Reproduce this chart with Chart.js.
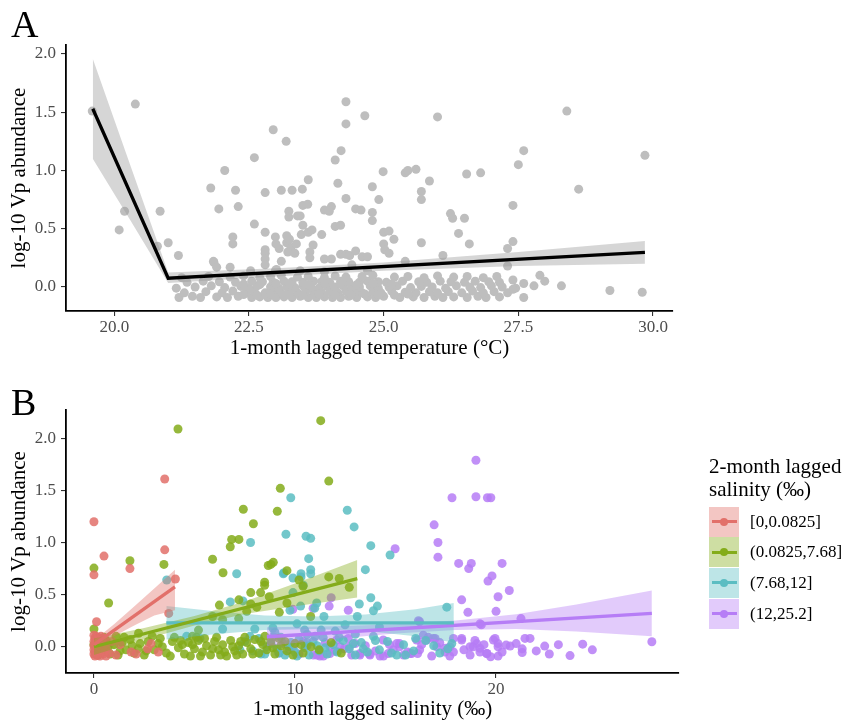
<!DOCTYPE html>
<html>
<head>
<meta charset="utf-8">
<title>Vp abundance vs lagged temperature and salinity</title>
<script src="https://cdn.jsdelivr.net/npm/chart.js@4.4.1/dist/chart.umd.min.js"></script>
<style>
  body { margin: 0; background: #fff; font-family: "Liberation Serif", "Times New Roman", serif; }
  #page { position: relative; width: 846px; height: 722px; overflow: hidden; background: #fff; }
  canvas { position: absolute; left: 0; }
  #chartA { top: 0; }
  #chartB { top: 380px; }
  .tag { position: absolute; font-size: 38px; line-height: 38px; color: #000; }
  .legend-title { position: absolute; left: 709px; top: 455px; font-size: 21px; line-height: 22.7px; color: #000; white-space: nowrap; }
  .key { position: absolute; left: 709px; width: 30px; height: 30px; }
  .key .line { position: absolute; left: 2.5px; right: 2.5px; top: 13.5px; height: 3px; }
  .key .dot { position: absolute; left: 11px; top: 11px; width: 8px; height: 8px; border-radius: 50%; }
  .key-label { position: absolute; left: 750px; height: 30px; line-height: 30px; font-size: 17px; color: #000; white-space: nowrap; }
</style>
</head>
<body>
<div id="page">
  <canvas id="chartA" width="846" height="370"></canvas>
  <canvas id="chartB" width="846" height="342"></canvas>
  <div class="tag" style="left:11px;top:5px">A</div>
  <div class="tag" style="left:11px;top:383px">B</div>
  <div class="legend-title">2-month lagged<br>salinity (‰)</div>
  <div id="legend"></div>
</div>
<script>
// ---- panel A: 1-month lagged temperature ----
const tempTicks = [20, 22.5, 25, 27.5, 30];
const abundTicks = [0, 0.5, 1, 1.5, 2];

const tempPoints = [
  [19.59, 1.51], [20.39, 1.57], [20.19, 0.65], [20.09, 0.49], [20.85, 0.65], [20.8, 0.35], [21.0, 0.38],
  [21.19, 0.27], [21.85, 0.21], [22.15, 0.17], [21.79, 0.85], [22.05, 1.0], [21.94, 0.67], [22.25, 0.83],
  [22.3, 0.69], [22.2, 0.43], [22.2, 0.37], [22.6, 1.11], [22.6, 0.54], [22.53, 0.14], [22.8, 0.81],
  [22.8, 0.47], [22.8, 0.32], [22.8, 0.29], [22.8, 0.24], [22.95, 1.35], [23.19, 1.25], [23.1, 0.83],
  [23.3, 0.83], [22.99, 0.43], [23.0, 0.37], [23.06, 0.33], [23.2, 0.38], [23.28, 0.34], [23.22, 0.3],
  [23.35, 0.29], [23.38, 0.37], [23.2, 0.44], [23.25, 0.41], [23.1, 0.22], [22.99, 0.14], [23.24, 0.65],
  [23.24, 0.6], [23.4, 0.61], [23.45, 0.61], [23.49, 0.84], [23.6, 0.92], [23.5, 0.7], [23.59, 0.71],
  [23.5, 0.53], [23.47, 0.45], [23.6, 0.47], [23.67, 0.49], [23.69, 0.36], [23.63, 0.3], [23.63, 0.25],
  [23.85, 0.45], [23.9, 0.66], [24.03, 0.69], [23.99, 0.65], [23.9, 0.24], [24.03, 0.24], [24.1, 0.52],
  [24.2, 0.53], [24.15, 0.89], [24.1, 1.09], [24.21, 1.17], [24.3, 1.59], [24.3, 1.4], [24.3, 0.76],
  [24.2, 0.28], [24.3, 0.28], [24.37, 0.27], [24.48, 0.67], [24.58, 0.66], [24.48, 0.31], [24.6, 0.26],
  [24.41, 0.19], [24.7, 0.26], [24.65, 1.47], [21.84, 0.22], [21.9, 0.17], [23.01, 0.15], [22.8, 0.19],
  [26.0, 1.46], [28.4, 1.51], [27.6, 1.17], [27.5, 1.05], [29.85, 1.13], [28.62, 0.84], [24.99, 0.99],
  [25.4, 0.98], [25.45, 1.0], [25.6, 1.01], [25.85, 0.91], [26.54, 0.97], [26.8, 0.98], [24.79, 0.86],
  [24.91, 0.75], [25.7, 0.82], [25.7, 0.75], [27.4, 0.7], [24.79, 0.64], [24.79, 0.57], [26.24, 0.63],
  [26.28, 0.59], [26.5, 0.59], [25.0, 0.47], [25.1, 0.48], [25.19, 0.41], [25.0, 0.37], [25.02, 0.32],
  [25.1, 0.29], [25.7, 0.38], [26.39, 0.46], [26.59, 0.37], [26.1, 0.27], [27.4, 0.39], [27.3, 0.33],
  [27.3, 0.18], [25.4, 0.22], [23.45, 0.14], [23.9, 0.13], [24.7, 0.14],
  // dense band near zero
  [21.2, -0.09], [21.45, -0.08], [21.6, -0.09], [21.9, -0.085], [22.1, -0.09], [22.3, -0.08], [22.55, -0.09],
  [22.7, -0.085], [22.85, -0.09], [23.0, -0.09], [23.15, -0.085], [23.3, -0.09], [23.45, -0.08], [23.6, -0.09],
  [23.75, -0.09], [23.9, -0.085], [24.05, -0.09], [24.2, -0.09], [24.35, -0.08], [24.5, -0.09], [24.7, -0.085],
  [24.85, -0.09], [25.0, -0.08], [25.3, -0.09], [25.55, -0.085], [25.75, -0.09], [25.95, -0.08], [26.1, -0.09],
  [26.3, -0.085], [26.55, -0.09], [26.75, -0.08], [26.9, -0.09], [27.15, -0.085], [27.6, -0.09],
  [21.3, -0.05], [21.7, -0.04], [22.0, -0.05], [22.2, -0.035], [22.45, -0.05], [22.6, -0.04], [22.8, -0.05],
  [22.95, -0.035], [23.1, -0.05], [23.25, -0.04], [23.4, -0.05], [23.55, -0.035], [23.7, -0.045], [23.85, -0.05],
  [24.0, -0.04], [24.15, -0.05], [24.3, -0.035], [24.45, -0.045], [24.6, -0.05], [24.8, -0.04], [24.95, -0.05],
  [25.15, -0.035], [25.4, -0.045], [25.6, -0.05], [25.85, -0.04], [26.0, -0.05], [26.2, -0.04], [26.45, -0.05],
  [26.65, -0.035], [26.85, -0.05], [27.05, -0.04], [27.3, -0.05],
  [21.15, -0.01], [21.5, 0.0], [21.8, 0.01], [22.05, -0.005], [22.35, 0.005], [22.5, -0.01], [22.65, 0.01],
  [22.9, 0.0], [23.05, -0.01], [23.2, 0.005], [23.35, -0.005], [23.5, 0.01], [23.65, 0.0], [23.8, -0.01],
  [23.95, 0.005], [24.1, 0.0], [24.25, 0.01], [24.4, -0.005], [24.55, 0.0], [24.75, 0.01], [24.9, -0.01],
  [25.1, 0.0], [25.25, 0.01], [25.5, -0.005], [25.7, 0.005], [25.9, 0.0], [26.15, -0.01], [26.35, 0.01],
  [26.6, 0.0], [26.8, -0.005], [27.0, 0.01], [27.2, 0.0], [27.45, -0.01],
  [21.35, 0.04], [21.65, 0.05], [21.95, 0.045], [22.25, 0.04], [22.55, 0.05], [22.75, 0.045], [22.95, 0.04],
  [23.15, 0.05], [23.3, 0.045], [23.5, 0.04], [23.7, 0.05], [23.85, 0.045], [24.0, 0.04], [24.2, 0.05],
  [24.35, 0.045], [24.55, 0.04], [24.7, 0.05], [24.9, 0.045], [25.05, 0.04], [25.35, 0.05], [25.65, 0.045],
  [25.8, 0.04], [26.05, 0.05], [26.25, 0.045], [26.5, 0.04], [26.7, 0.05], [26.95, 0.045], [27.15, 0.04], [27.4, 0.06],
  [21.25, 0.08], [21.75, 0.09], [22.15, 0.085], [22.4, 0.095], [22.7, 0.08], [22.9, 0.09], [23.1, 0.1],
  [23.4, 0.085], [23.6, 0.09], [23.9, 0.08], [24.1, 0.095], [24.3, 0.085], [24.6, 0.09], [24.8, 0.1],
  [25.2, 0.085], [25.45, 0.09], [25.75, 0.08], [26.0, 0.095], [26.3, 0.085], [26.55, 0.09], [26.85, 0.08], [27.1, 0.09],
  [22.4, -0.065], [22.65, -0.07], [22.9, -0.06], [23.2, -0.065], [23.5, -0.07], [23.8, -0.06], [24.1, -0.065],
  [24.4, -0.07], [24.65, -0.06], [24.9, -0.065], [25.2, -0.07], [25.45, -0.06],
  [22.4, 0.025], [22.7, 0.02], [23.0, 0.03], [23.25, 0.025], [23.6, 0.02], [23.9, 0.03], [24.2, 0.025],
  [24.5, 0.02], [24.8, 0.03], [25.15, 0.025],
  [27.6, 0.03], [27.79, 0.01], [27.9, 0.1], [27.99, 0.05], [28.3, 0.01], [29.2, -0.03], [29.8, -0.045], [27.4, -0.02]
];

// segmented fit and its confidence band
const tempFit = [[19.6, 1.53], [21.0, 0.075], [29.85, 0.297]];
const tempBandX = [19.6, 20.3, 21.0, 23, 25, 27.5, 29.85];
const tempBandHi = [1.96, 1.04, 0.125, 0.16, 0.21, 0.3, 0.395];
const tempBandLo = [1.1, 0.57, 0.035, 0.09, 0.14, 0.18, 0.2];

// ---- panel B: 1-month lagged salinity, grouped by 2-month lagged salinity ----
const salTicks = [0, 10, 20];
const groupLabels = ['[0,0.0825]', '(0.0825,7.68]', '(7.68,12]', '(12,25.2]'];
const groupColors = ['#E2706A', '#84AC1A', '#5BBDC2', '#B67DF6'];

const salRedPoints = [
  [0, 1.2], [0.5, 0.87], [0, 0.69], [1.79, 0.75], [3.52, 0.93], [3.52, 1.61], [4.05, 0.65], [3.72, 0.32], [0.13, 0.24],
  [0, 0.11], [0.05, 0.08], [0.1, 0.1], [0.2, 0.09], [0.35, 0.1], [0.5, 0.08],
  [0, 0.05], [0.1, 0.04], [0.25, 0.06], [0.4, 0.05], [0.6, 0.04],
  [0, 0.01], [0.15, 0.0], [0.3, 0.02], [0.45, 0.0], [0.6, -0.01],
  [0, -0.03], [0.1, -0.04], [0.25, -0.03], [0.4, -0.05], [0.55, -0.04],
  [0, -0.07], [0.15, -0.08], [0.3, -0.09], [0.45, -0.07], [0.6, -0.09], [0.05, -0.09], [0.75, -0.06],
  [1.09, -0.08], [1.85, -0.05], [2.67, -0.02], [2.84, 0.03], [0.9, 0.05], [1.3, 0.02], [2.1, -0.07], [3.2, -0.05]
];
const salGreenPoints = [
  [4.18, 2.09], [11.28, 2.17], [11.68, 1.59], [0, 0.755], [1.79, 0.825], [3.48, 0.79], [0.73, 0.42], [0, 0.17],
  [5.9, 0.84], [6.42, 0.71], [7.43, 1.32], [7.93, 1.18], [6.85, 1.03], [7.21, 1.03], [6.78, 0.96], [9.27, 1.52],
  [9.12, 1.3], [8.67, 0.78], [8.92, 0.81], [8.8, 0.79], [8.49, 0.62], [8.49, 0.59], [7.8, 0.52], [8.29, 0.52],
  [7.21, 0.45], [6.24, 0.4], [8.72, 0.48], [7.8, 0.41], [5.9, 0.29], [6.4, 0.26], [7.2, 0.27], [5.2, 0.16],
  [4.9, 0.1], [5.1, 0.09], [2.22, 0.13], [1.1, 0.1], [9.6, 0.73], [10.2, 0.64], [10.4, 0.58], [11.68, 0.67],
  [12.2, 0.655], [12.7, 0.57], [9.6, 0.42], [10.78, 0.29], [9.22, 0.33], [8.1, 0.38], [7.6, 0.34],
  [0.2, 0.03], [0.4, -0.02], [0.6, 0.06], [0.8, -0.07], [1.0, 0.02], [1.2, -0.08], [1.4, 0.04], [1.6, -0.03],
  [1.8, 0.07], [2.0, -0.06], [2.3, 0.03], [2.5, -0.08], [2.7, 0.05], [3.0, -0.03], [3.3, 0.08], [3.6, -0.06],
  [3.9, 0.05], [4.2, -0.01], [4.5, -0.07], [4.7, 0.04], [5.0, -0.02], [5.2, 0.06], [5.4, -0.05], [5.6, 0.01],
  [5.8, -0.08], [6.0, 0.05], [6.2, -0.03], [6.4, 0.02], [6.6, -0.09], [6.8, 0.06], [7.0, -0.04], [7.2, 0.01],
  [7.4, -0.07], [7.6, 0.04], [7.8, -0.02], [8.0, 0.07], [8.2, -0.06], [8.4, 0.02], [8.6, -0.03], [8.8, 0.05],
  [9.0, -0.07], [9.3, 0.01], [9.6, -0.04], [10.0, 0.03], [10.4, -0.06], [10.8, 0.0],
  [0.1, 0.06], [0.3, -0.06], [0.5, 0.09], [2.9, 0.1], [3.4, 0.0], [4.0, 0.09], [4.8, -0.09], [6.1, 0.09],
  [5.3, -0.09], [7.5, 0.09], [7.1, -0.08], [8.5, 0.1], [6.5, -0.05], [4.4, 0.02], [1.5, 0.09], [2.2, -0.02],
  [9.2, 0.08], [0, 0.02], [0.05, -0.05], [0.2, -0.08],
  [0.7, 0.0], [1.3, -0.04], [1.9, 0.01], [2.6, -0.04], [3.2, 0.03], [3.8, -0.09], [4.3, 0.06], [4.9, 0.02],
  [5.5, 0.08], [5.9, -0.02], [6.3, -0.08], [6.9, 0.0], [7.3, 0.05], [7.9, -0.07], [8.3, 0.05], [8.9, -0.01],
  [9.5, 0.05], [9.9, -0.08], [10.3, 0.02], [11.2, -0.03], [11.8, 0.04], [12.3, -0.06]
];
const salCyanPoints = [
  [3.62, 0.64], [7.79, 1.0], [9.55, 1.08], [7.1, 0.7], [9.42, 0.7], [6.78, 0.43], [7.41, 0.44], [6.4, 0.17],
  [9.79, 1.43], [12.6, 1.31], [12.94, 1.15], [10.55, 1.06], [10.78, 1.04], [13.77, 0.97], [10.68, 0.845],
  [10.78, 0.74], [10.78, 0.7], [9.45, 0.71], [10.3, 0.7], [10.3, 0.67], [13.5, 0.74], [9.9, 0.66], [10.41, 0.59],
  [9.9, 0.52], [13.2, 0.41], [13.77, 0.47], [14.1, 0.39], [13.9, 0.345], [13.1, 0.29], [10.28, 0.39], [11.08, 0.42],
  [10.98, 0.37], [11.44, 0.29], [10.48, 0.16], [14.73, 0.88], [17.55, 0.38], [9.75, 0.35], [11.3, 0.16],
  [12.49, 0.21], [14.2, 0.19], [4.61, 0.1], [5.27, 0.08], [7.76, 0.1], [7.26, -0.03], [8.31, -0.07],
  [7.5, 0.05], [7.9, -0.04], [8.2, 0.08], [8.5, -0.07], [8.8, 0.03], [9.1, -0.02], [9.3, 0.09], [9.5, -0.08],
  [9.8, 0.04], [10.0, -0.05], [10.2, 0.07], [10.5, -0.01], [10.7, -0.08], [10.9, 0.05], [11.2, -0.04], [11.4, 0.09],
  [11.6, -0.07], [11.9, 0.02], [12.1, -0.05], [12.4, 0.06], [12.7, -0.02], [13.0, -0.08], [13.3, 0.04], [13.6, -0.05],
  [13.9, 0.1], [14.2, -0.03], [14.6, 0.05], [15.06, -0.08], [15.4, 0.02], [15.9, -0.04], [16.5, 0.06], [17.2, -0.06],
  [17.8, 0.03], [9.0, 0.14], [10.6, 0.12], [12.0, 0.15], [8.0, 0.17], [11.0, 0.1],
  [8.6, 0.0], [9.2, -0.06], [9.7, 0.0], [10.1, -0.09], [10.6, 0.04], [11.1, 0.01], [11.5, -0.01], [12.2, 0.09],
  [12.9, 0.03], [13.4, -0.02], [14.0, 0.06], [14.8, -0.06], [16.0, 0.08], [16.9, 0.01], [15.5, -0.08],
  [17.6, -0.02], [8.9, 0.18], [13.0, 0.12], [10.1, 0.22]
];
const salPurplePoints = [
  [14.98, 0.94], [16.92, 1.17], [17.11, 1.0], [17.11, 0.86], [17.81, 1.43], [19.0, 1.79], [19.0, 1.44],
  [19.57, 1.43], [19.74, 1.43], [18.14, 0.8], [18.64, 0.75], [18.77, 0.8], [19.6, 0.63], [19.8, 0.68],
  [18.29, 0.45], [18.6, 0.33], [20.0, 0.34], [20.3, 0.8], [20.66, 0.54], [20.1, 0.48], [21.24, 0.27],
  [19.27, 0.21], [16.14, 0.25], [19.2, 0.22], [11.8, 0.47], [11.7, 0.39], [12.65, 0.35], [9.89, 0.36], [10.9, 0.37],
  [15.8, -0.065], [16.2, -0.03], [16.55, 0.065], [16.8, -0.09], [16.97, 0.08], [17.46, -0.05], [17.71, 0.0],
  [17.88, -0.05], [18.29, 0.08], [18.71, 0.0], [18.71, -0.08], [19.04, 0.03], [19.2, -0.05], [19.54, -0.065],
  [19.73, -0.096], [19.95, 0.08], [20.1, 0.03], [20.1, -0.09], [20.5, 0.016], [20.7, 0.006], [21.3, -0.02],
  [21.3, -0.055], [21.44, 0.08], [21.69, 0.08], [22.42, 0.006], [22.65, -0.07], [23.68, -0.085], [24.31, 0.025],
  [24.79, -0.03], [27.75, 0.048],
  [11.08, -0.08], [11.41, -0.09], [11.74, -0.065], [12.24, 0.0], [12.65, 0.08], [12.82, -0.08], [13.23, -0.065],
  [13.73, -0.08], [14.23, -0.09], [14.39, 0.065], [14.64, -0.065], [15.06, 0.03], [15.2, 0.0], [15.72, -0.065],
  [16.05, 0.065], [16.38, 0.11], [16.63, 0.09], [16.88, 0.08], [17.05, 0.0], [17.46, -0.015], [17.88, 0.08],
  [18.29, 0.065], [18.87, 0.0], [19.2, -0.015], [19.54, -0.065], [19.87, 0.065], [20.1, 0.0],
  [8.92, 0.096], [9.42, 0.03], [9.92, 0.0], [10.41, 0.05], [10.91, -0.08], [11.24, -0.09], [11.74, 0.0],
  [12.07, 0.065], [12.7, 0.0], [13.23, -0.08], [13.7, -0.07], [14.4, -0.09], [14.89, -0.03], [15.2, 0.03],
  [15.6, -0.05], [16.1, -0.065], [16.2, 0.24],
  [9.2, -0.06], [9.7, -0.03], [10.2, -0.07], [10.6, 0.01], [11.5, 0.04], [12.0, -0.04], [12.45, -0.02],
  [13.0, 0.03], [13.5, 0.01], [14.0, -0.04], [14.7, 0.02], [15.4, -0.08], [16.3, 0.02], [17.2, 0.04],
  [17.7, -0.09], [18.4, -0.03], [18.95, 0.06], [19.4, 0.02], [20.3, -0.05], [21.0, 0.03], [22.0, -0.04], [23.1, 0.02]
];

// linear fits per group, with band x positions and upper / lower limits
const redFit = [[0, 0.02], [4.03, 0.575]];
const redBandX = [0, 1, 2, 3, 4.03];
const redBandHi = [0.06, 0.215, 0.385, 0.56, 0.74];
const redBandLo = [-0.02, 0.1, 0.205, 0.3, 0.35];

const greenFit = [[0, 0.0], [13.1, 0.653]];
const greenBandX = [0, 2.5, 5, 7.5, 10, 13.1];
const greenBandHi = [0.08, 0.18, 0.294, 0.434, 0.608, 0.833];
const greenBandLo = [-0.08, 0.07, 0.204, 0.314, 0.388, 0.473];

const cyanFit = [[3.6, 0.23], [17.9, 0.23]];
const cyanBandX = [3.6, 6, 8.5, 11, 13.5, 16, 17.9];
const cyanBandHi = [0.39, 0.34, 0.3, 0.29, 0.31, 0.36, 0.42];
const cyanBandLo = [0.07, 0.12, 0.16, 0.17, 0.15, 0.1, 0.04];

const purpleFit = [[8.6, 0.096], [27.75, 0.32]];
const purpleBandX = [8.6, 12, 15, 18, 21, 24, 27.75];
const purpleBandHi = [0.186, 0.196, 0.216, 0.251, 0.311, 0.406, 0.54];
const purpleBandLo = [0.006, 0.076, 0.126, 0.161, 0.171, 0.146, 0.1];

// ---- helpers ----
const serif = '"Liberation Serif", "Times New Roman", serif';
Chart.defaults.font.family = serif;

const xy = pts => pts.map(([x, y]) => ({ x, y }));
const band = (xs, ys) => xs.map((x, i) => ({ x, y: ys[i] }));

function rgba(hex, a) {
  const n = parseInt(hex.slice(1), 16);
  return `rgba(${(n >> 16) & 255}, ${(n >> 8) & 255}, ${n & 255}, ${a})`;
}

function makeScale(o) {
  return {
    type: 'linear',
    position: o.position,
    min: o.min,
    max: o.max,
    afterBuildTicks: s => { s.ticks = o.ticks.map(v => ({ value: v })); },
    afterFit: s => {
      if (o.width) s.width = o.width;
      if (o.height) s.height = o.height;
    },
    grid: { display: true, drawOnChartArea: false, drawTicks: true, tickLength: 5, color: '#333', lineWidth: 1.1 },
    border: { display: true, color: '#000', width: 1.8 },
    ticks: {
      autoSkip: false,
      maxRotation: 0,
      padding: o.tickPad,
      color: '#4d4d4d',
      font: { size: 17 },
      callback: o.format
    },
    title: { display: true, text: o.title, color: '#000', font: { size: 21 }, padding: o.titlePad }
  };
}

function lineSet(points, color, width) {
  return {
    data: xy(points), showLine: true, fill: false,
    borderColor: color, borderWidth: width, pointRadius: 0, borderCapStyle: 'butt'
  };
}

function bandSets(xs, hi, lo, fillColor) {
  return [
    { data: band(xs, hi), showLine: true, fill: false, borderColor: 'rgba(0,0,0,0)', borderWidth: 1, pointRadius: 0 },
    { data: band(xs, lo), showLine: true, fill: '-1', backgroundColor: fillColor, borderColor: 'rgba(0,0,0,0)', borderWidth: 1, pointRadius: 0 }
  ];
}

function pointSet(points, color) {
  return {
    data: xy(points), showLine: false,
    pointRadius: 4.5, pointBorderWidth: 0, pointBackgroundColor: color, backgroundColor: color, borderColor: color
  };
}

const baseOptions = {
  responsive: false,
  animation: false,
  events: [],
  plugins: { legend: { display: false }, tooltip: { enabled: false } }
};

// ---- chart A ----
new Chart(document.getElementById('chartA'), {
  type: 'scatter',
  data: {
    datasets: [
      lineSet(tempFit, '#000', 3.3),
      ...bandSets(tempBandX, tempBandHi, tempBandLo, 'rgba(153, 153, 153, 0.4)'),
      pointSet(tempPoints, '#bebebe')
    ]
  },
  options: {
    ...baseOptions,
    layout: { autoPadding: false, padding: { left: 0, top: 45, right: 173, bottom: 0 } },
    scales: {
      x: makeScale({
        position: 'bottom', min: 19.103, max: 30.371, ticks: tempTicks, height: 59, tickPad: 1,
        format: v => v.toFixed(1), title: '1-month lagged temperature (°C)', titlePad: { top: 0, bottom: 9.4 }
      }),
      y: makeScale({
        position: 'left', min: -0.206, max: 2.077, ticks: abundTicks, width: 66, tickPad: 5,
        format: v => v.toFixed(1), title: 'log-10 Vp abundance', titlePad: { top: 6.4, bottom: 0 }
      })
    }
  }
});

// ---- chart B ----
const groupPoints = [salRedPoints, salGreenPoints, salCyanPoints, salPurplePoints];
const groupFits = [redFit, greenFit, cyanFit, purpleFit];
const groupBands = [
  [redBandX, redBandHi, redBandLo],
  [greenBandX, greenBandHi, greenBandLo],
  [cyanBandX, cyanBandHi, cyanBandLo],
  [purpleBandX, purpleBandHi, purpleBandLo]
];

const datasetsB = [];
groupFits.forEach((f, i) => datasetsB.push(lineSet(f, groupColors[i], 3.3)));
groupBands.forEach(([bx, hi, lo], i) => datasetsB.push(...bandSets(bx, hi, lo, rgba(groupColors[i], 0.4))));
groupPoints.forEach((p, i) => datasetsB.push(pointSet(p, rgba(groupColors[i], 0.85))));

new Chart(document.getElementById('chartB'), {
  type: 'scatter',
  data: { datasets: datasetsB },
  options: {
    ...baseOptions,
    layout: { autoPadding: false, padding: { left: 0, top: 30, right: 167, bottom: 0 } },
    scales: {
      x: makeScale({
        position: 'bottom', min: -1.39, max: 29.1, ticks: salTicks, height: 49, tickPad: 1,
        format: v => String(v), title: '1-month lagged salinity (‰)', titlePad: { top: 0, bottom: 0 }
      }),
      y: makeScale({
        position: 'left', min: -0.252, max: 2.272, ticks: abundTicks, width: 66, tickPad: 5,
        format: v => v.toFixed(1), title: 'log-10 Vp abundance', titlePad: { top: 6.4, bottom: 0 }
      })
    }
  }
});

// ---- legend for B ----
const legend = document.getElementById('legend');
groupLabels.forEach((label, i) => {
  const top = 506.5 + i * 30.7;
  const key = document.createElement('div');
  key.className = 'key';
  key.style.top = top + 'px';
  key.style.background = rgba(groupColors[i], 0.4);
  key.innerHTML = `<div class="line" style="background:${groupColors[i]}"></div><div class="dot" style="background:${groupColors[i]}"></div>`;
  legend.appendChild(key);
  const txt = document.createElement('div');
  txt.className = 'key-label';
  txt.style.top = top + 'px';
  txt.textContent = label;
  legend.appendChild(txt);
});
</script>
</body>
</html>
